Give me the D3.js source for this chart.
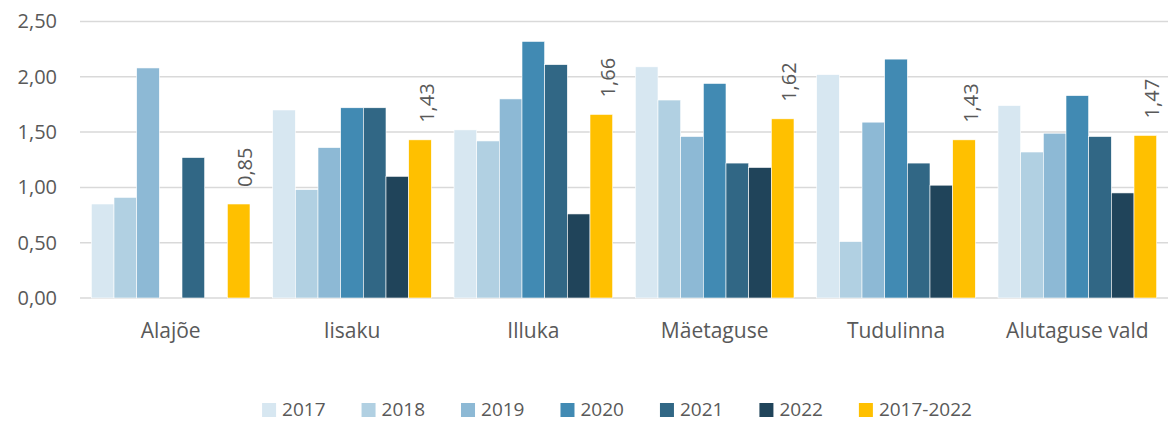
<!DOCTYPE html>
<html>
<head>
<meta charset="utf-8">
<script src="https://cdn.jsdelivr.net/npm/d3@7"></script>
<style>
  html, body { margin: 0; padding: 0; background: #fff; }
  svg { display: block; }
  text { font-family: "Open Sans", "Noto Sans", sans-serif; fill: #595959; }
</style>
</head>
<body>
<svg id="chart" width="1169" height="423"></svg>
<script>
const categories = ["Alajõe", "Iisaku", "Illuka", "Mäetaguse", "Tudulinna", "Alutaguse vald"];
const seriesNames = ["2017", "2018", "2019", "2020", "2021", "2022", "2017-2022"];
const v2017 = [0.85, 1.70, 1.52, 2.09, 2.02, 1.74];
const v2018 = [0.91, 0.98, 1.42, 1.79, 0.51, 1.32];
const v2019 = [2.08, 1.36, 1.80, 1.46, 1.59, 1.49];
const v2020 = [null, 1.72, 2.32, 1.94, 2.16, 1.83];
const v2021 = [1.27, 1.72, 2.11, 1.22, 1.22, 1.46];
const v2022 = [null, 1.10, 0.76, 1.18, 1.02, 0.95];
const vAvg  = [0.85, 1.43, 1.66, 1.62, 1.43, 1.47];
const seriesColors = ["#d7e7f1", "#b1d0e2", "#8db9d5", "#418ab3", "#316785", "#20445a", "#ffc000"];
const yTicks = [0, 0.5, 1, 1.5, 2, 2.5];

const seriesValues = [v2017, v2018, v2019, v2020, v2021, v2022, vAvg];
const fmt = v => v.toFixed(2).replace(".", ",");

const svg = d3.select("#chart");
const plotLeft = 80, plotRight = 1168, plotTop = 21.5, plotBottom = 298;

const x0 = d3.scaleBand().domain(categories).range([plotLeft, plotRight]).paddingInner(0).paddingOuter(0);
const x1 = d3.scaleBand().domain(seriesNames).range([0, x0.bandwidth()]).paddingInner(0).paddingOuter(0.5);
const y = d3.scaleLinear().domain([0, 2.5]).range([plotBottom, plotTop]);

// gridlines
svg.append("g").selectAll("line").data(yTicks).join("line")
  .attr("x1", plotLeft).attr("x2", plotRight)
  .attr("y1", d => y(d)).attr("y2", d => y(d))
  .attr("stroke", "#d9d9d9").attr("stroke-width", 1.5);

// y axis labels
const yAxis = d3.axisLeft(y).tickValues(yTicks).tickFormat(fmt).tickSize(0).tickPadding(0);
const yg = svg.append("g").attr("transform", `translate(57,0)`).call(yAxis);
yg.select(".domain").remove();
yg.selectAll("text").attr("font-size", 20).attr("fill", "#595959")
  .style("font-family", '"Open Sans", sans-serif');

// bars
const groups = svg.append("g").selectAll("g").data(categories).join("g")
  .attr("transform", d => `translate(${x0(d)},0)`);

groups.each(function(cat, ci) {
  const g = d3.select(this);
  seriesNames.forEach((s, si) => {
    const v = seriesValues[si][ci];
    if (v == null) return;
    g.append("rect")
      .attr("x", x1(s))
      .attr("y", y(v))
      .attr("width", x1.bandwidth())
      .attr("height", y(0) - y(v))
      .attr("fill", seriesColors[si])
      .attr("stroke", "#ffffff").attr("stroke-width", 0.6);
  });
  // data label on the average bar
  const av = vAvg[ci];
  const cx = x1("2017-2022") + x1.bandwidth() / 2 + 6;
  const cy = y(av) - 17;
  g.append("text")
    .attr("transform", `translate(${cx},${cy}) rotate(-90)`)
    .attr("text-anchor", "start")
    .attr("dominant-baseline", "central")
    .attr("font-size", 20)
    .text(fmt(av));
});

// x axis labels
const xAxis = d3.axisBottom(x0).tickSize(0).tickPadding(0);
const xg = svg.append("g").attr("transform", `translate(0,${plotBottom})`).call(xAxis);
xg.select(".domain").remove();
xg.selectAll("text").attr("font-size", 21).attr("fill", "#595959")
  .attr("dy", null).attr("y", 40)
  .style("font-family", '"Open Sans", sans-serif');

// legend
const legend = svg.append("g");
const items = legend.selectAll("g").data(seriesNames).join("g");
items.append("rect").attr("width", 14).attr("height", 14).attr("y", -6)
  .attr("fill", (d, i) => seriesColors[i]);
items.append("text").attr("x", 20).attr("dy", "0.35em").attr("font-size", 19).text(d => d);
let xpos = 0;
const gap = 36;
items.each(function() {
  const w = d3.select(this).select("text").node().getComputedTextLength();
  this.__x = xpos;
  xpos += 20 + w + gap;
});
const total = xpos - gap;
const startX = 617 - total / 2;
items.attr("transform", function() { return `translate(${startX + this.__x},409)`; });
</script>
</body>
</html>
